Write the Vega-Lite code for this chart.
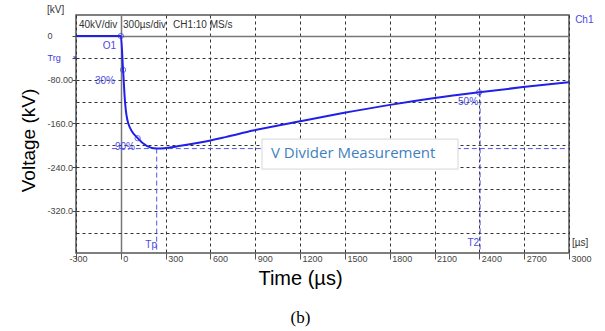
{
  "$schema": "https://vega.github.io/schema/vega-lite/v6.json",
  "autosize": {"type": "none"},
  "padding": {"left": 76, "top": 15, "right": 36, "bottom": 78},
  "width": 493,
  "height": 238,
  "background": "white",
  "config": {
    "view": {"stroke": "#555", "strokeWidth": 1.5},
    "text": {"font": "Liberation Sans"}
  },
  "title": {"text": "(b)", "orient": "bottom", "font": "Liberation Serif", "fontSize": 17, "fontWeight": "normal", "color": "#000", "offset": 22, "dx": -22},
  "datasets": {
    "curve": [
      {"t": -300, "v": 0}, {"t": 0, "v": 0}, {"t": 15, "v": -62}, {"t": 28, "v": -120},
      {"t": 50, "v": -160}, {"t": 113, "v": -187}, {"t": 173, "v": -201}, {"t": 240, "v": -206},
      {"t": 400, "v": -201}, {"t": 530, "v": -195}, {"t": 700, "v": -185}, {"t": 885, "v": -173},
      {"t": 1199, "v": -156}, {"t": 1487, "v": -141}, {"t": 1802, "v": -126}, {"t": 2090, "v": -114},
      {"t": 2398, "v": -103}, {"t": 2692, "v": -93.5}, {"t": 3000, "v": -84.5}
    ],
    "markers": [
      {"t": 0, "v": 0}, {"t": 15, "v": -62}, {"t": 113, "v": -187}, {"t": 2398, "v": -103}
    ],
    "trg": [{"t": -308, "v": -40}],
    "cursors": [
      {"t": -60, "t2": 3000, "v": -206, "v2": -206},
      {"t": 240, "t2": 240, "v": -206, "v2": -397},
      {"t": 2405, "t2": 2405, "v": -103, "v2": -397}
    ],
    "header": [
      {"t": -280, "v": 20, "label": "40kV/div"},
      {"t": 15, "v": 20, "label": "300µs/div"},
      {"t": 349, "v": 20, "label": "CH1:10 MS/s"},
      {"t": -494, "v": 47.6, "label": "[kV]"},
      {"t": 3020, "v": -379, "label": "[µs]"}
    ],
    "bluelabels": [
      {"t": -32, "v": -18, "label": "O1"},
      {"t": -39, "v": -82, "label": "30%"},
      {"t": 95, "v": -203, "label": "90%"},
      {"t": 2391, "v": -121, "label": "50%"},
      {"t": 242, "v": -382, "label": "Tp"},
      {"t": 2398, "v": -379, "label": "T2"}
    ],
    "ch": [{"t": 3041, "v": 29.3, "label": "Ch1"}],
    "box": [{"t": 945, "t2": 2257, "v": -188.6, "v2": -243.5, "label": "V Divider Measurement"}]
  },
  "encoding": {
    "x": {
      "field": "t", "type": "quantitative",
      "scale": {"domain": [-300, 3000], "nice": false, "zero": false},
      "axis": {
        "values": [-300, 0, 300, 600, 900, 1200, 1500, 1800, 2100, 2400, 2700, 3000],
        "labelExpr": "'' + datum.value",
        "grid": true,
        "gridColor": {"condition": {"test": "datum.value == 0", "value": "#777"}, "value": "#333"},
        "gridDash": {"condition": {"test": "datum.value == 0", "value": []}, "value": [3, 3]},
        "gridWidth": {"condition": {"test": "datum.value == 0", "value": 1.5}, "value": 1},
        "domain": false,
        "ticks": true, "tickSize": 6, "tickColor": "#555",
        "labelAlign": {"condition": {"test": "datum.value == -300", "value": "center"}, "value": "left"},
        "labelPadding": -5, "labelBaseline": "top", "labelOffset": 2,
        "labelFont": "Liberation Sans", "labelFontSize": 9, "labelColor": "#444",
        "labelFlush": false, "labelOverlap": false,
        "title": "Time (µs)", "titleFont": "Liberation Sans", "titleFontSize": 20, "titleFontWeight": "normal",
        "titleColor": "#000", "titleX": 224, "titleY": 25, "titleBaseline": "middle", "titleAlign": "center"
      }
    },
    "y": {
      "field": "v", "type": "quantitative",
      "scale": {"domain": [-397, 38.4], "nice": false, "zero": false},
      "axis": {
        "values": [0, -40, -80, -120, -160, -200, -240, -280, -320, -360],
        "labelExpr": "datum.value == 0 ? '0' : datum.value == -40 ? 'Trg' : datum.value == -80 ? '-80.00' : (datum.value % 80 == 0 ? datum.value + '.0' : '')",
        "grid": true,
        "gridColor": {"condition": {"test": "datum.value == 0", "value": "#777"}, "value": "#333"},
        "gridDash": {"condition": {"test": "datum.value == 0", "value": []}, "value": [3, 3]},
        "gridWidth": {"condition": {"test": "datum.value == 0", "value": 1.5}, "value": 1},
        "domain": false,
        "ticks": true, "tickSize": 4, "tickColor": "#444",
        "tickOpacity": {"condition": {"test": "datum.value % 80 == 0 || datum.value == -40", "value": 1}, "value": 0},
        "labelAlign": "left", "labelPadding": 25, "labelBaseline": "middle",
        "labelFont": "Liberation Sans", "labelFontSize": 9,
        "labelColor": {"condition": {"test": "datum.value == -40", "value": "#3c3cdc"}, "value": "#444"},
        "labelFlush": false, "labelOverlap": false,
        "title": "Voltage (kV)", "titleFont": "Liberation Sans", "titleFontSize": 19, "titleFontWeight": "normal",
        "titleColor": "#000", "titleX": -48, "titleY": 125, "titleBaseline": "middle", "titleAlign": "center", "titleAngle": -90
      }
    }
  },
  "layer": [
    {
      "data": {"name": "cursors"},
      "mark": {"type": "rule", "color": "#5555ee", "strokeDash": [5, 3], "strokeWidth": 1},
      "encoding": {"x2": {"field": "t2"}, "y2": {"field": "v2"}}
    },
    {
      "data": {"name": "curve"},
      "mark": {"type": "line", "color": "#2020e8", "strokeWidth": 2, "interpolate": "monotone"}
    },
    {
      "data": {"name": "markers"},
      "mark": {"type": "point", "shape": "circle", "size": 28, "filled": false, "color": "#3030e0", "strokeWidth": 1}
    },
    {
      "data": {"name": "trg"},
      "mark": {"type": "point", "shape": "triangle-down", "size": 14, "filled": true, "color": "#3030e0"}
    },
    {
      "data": {"name": "header"},
      "mark": {"type": "text", "align": "left", "baseline": "middle", "fontSize": 10, "color": "#333"},
      "encoding": {"text": {"field": "label"}}
    },
    {
      "data": {"name": "bluelabels"},
      "mark": {"type": "text", "align": "right", "baseline": "middle", "fontSize": 10, "color": "#4a4ae0"},
      "encoding": {"text": {"field": "label"}}
    },
    {
      "data": {"name": "ch"},
      "mark": {"type": "text", "align": "left", "baseline": "middle", "fontSize": 10, "color": "#4a4ae0"},
      "encoding": {"text": {"field": "label"}}
    },
    {
      "data": {"name": "box"},
      "mark": {"type": "rect", "fill": "white", "stroke": "#d6d6d6", "strokeWidth": 1},
      "encoding": {"x2": {"field": "t2"}, "y2": {"field": "v2"}}
    },
    {
      "data": {"name": "box"},
      "mark": {"type": "text", "align": "left", "baseline": "middle", "dx": 9, "font": "Open Sans", "fontSize": 15, "color": "#3f7fbf"},
      "encoding": {"y": {"datum": -214}, "text": {"field": "label"}}
    }
  ]
}
